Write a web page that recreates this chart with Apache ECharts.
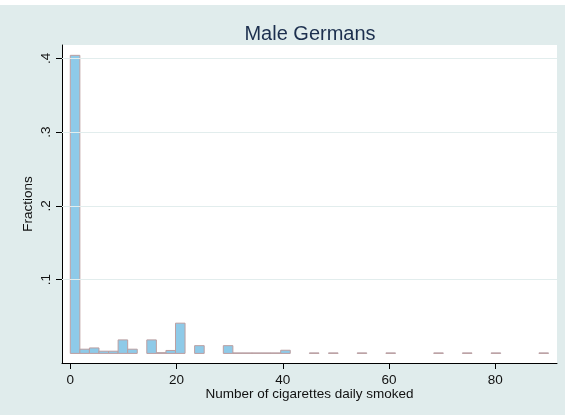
<!DOCTYPE html>
<html><head><meta charset="utf-8">
<script src="https://cdn.jsdelivr.net/npm/echarts@6/dist/echarts.min.js"></script>
<style>html,body{margin:0;padding:0;background:#fff}#c{width:565px;height:415px}</style>
</head><body><div id="c"></div>
<script>
const chartTitle = 'Male Germans';
const xName = 'Number of cigarettes daily smoked';
const yName = 'Fractions';
const binStart = 0;
const binWidth = 1.8;
const fractions = [
  0.404, 0.0057, 0.0074, 0.003, 0.003, 0.0183, 0.0057, 0, 0.0183, 0.001,
  0.004, 0.041, 0, 0.0105, 0, 0, 0.0105, 0.0007, 0.0007, 0.0007,
  0.0007, 0.0007, 0.0043, 0, 0, 0.0007, 0, 0.0007, 0, 0,
  0.0007, 0, 0, 0.0007, 0, 0, 0, 0, 0.0007, 0,
  0, 0.0007, 0, 0, 0.0007, 0, 0, 0, 0, 0.0007
];
const xTicks = [0, 20, 40, 60, 80];
const yTicks = [0.1, 0.2, 0.3, 0.4];
const yTickLabels = ['.1', '.2', '.3', '.4'];

const FONT = '"Liberation Sans", Arial, sans-serif';
const bins = fractions
  .map((v, i) => [binStart + i * binWidth, binStart + (i + 1) * binWidth, v])
  .filter(d => d[2] > 0);

const chart = echarts.init(document.getElementById('c'), null, {renderer: 'canvas'});
chart.setOption({
  backgroundColor: '#e0ecec',
  animation: false,
  graphic: [{type: 'rect', left: 0, top: 0, shape: {width: 565, height: 5}, style: {fill: '#ffffff'}, silent: true}],
  title: {
    text: chartTitle, left: 305, textAlign: 'center', top: 19,
    textStyle: {fontFamily: FONT, fontSize: 20, fontWeight: 'normal', color: '#1c2f4e'}
  },
  grid: {left: 62, right: 8, top: 45, bottom: 52, show: true, backgroundColor: '#ffffff', borderWidth: 0},
  xAxis: {
    type: 'value', min: -1.56, max: 91.6,
    name: xName, nameLocation: 'middle', nameGap: 24, nameMoveOverlap: false,
    nameTextStyle: {fontFamily: FONT, fontSize: 13.5, color: '#111'},
    axisLine: {onZero: false, lineStyle: {color: '#000', width: 1}},
    axisTick: {show: true, length: 6, customValues: xTicks, lineStyle: {color: '#000'}},
    axisLabel: {customValues: xTicks, margin: 10, fontFamily: FONT, fontSize: 13.5, color: '#111'},
    splitLine: {show: false}
  },
  yAxis: {
    type: 'value', min: -0.013, max: 0.418,
    name: yName, nameLocation: 'middle', nameGap: 27, nameMoveOverlap: false,
    nameTextStyle: {fontFamily: FONT, fontSize: 13.5, color: '#111'},
    axisLine: {show: true, onZero: false, lineStyle: {color: '#000', width: 1}},
    axisTick: {show: true, length: 6, customValues: yTicks, lineStyle: {color: '#000'}},
    axisLabel: {
      customValues: yTicks, rotate: 90, margin: 9, fontFamily: FONT, fontSize: 13.5, color: '#111',
      formatter: v => { const i = yTicks.findIndex(t => Math.abs(t - v) < 1e-9); return i >= 0 ? yTickLabels[i] : ''; }
    },
    splitLine: {show: false}
  },
  series: [
    {
      type: 'line', data: [], z: 1, silent: true,
      markLine: {
        silent: true, symbol: ['none', 'none'], label: {show: false},
        lineStyle: {color: '#e2eded', width: 1, type: 'solid'},
        data: yTicks.map(t => ({yAxis: t}))
      }
    },
    {
      type: 'custom', z: 3, data: bins,
      encode: {x: [0, 1], y: 2},
      renderItem: (params, api) => {
        const p0 = api.coord([api.value(0), 0]);
        const p1 = api.coord([api.value(1), api.value(2)]);
        return {
          type: 'rect',
          shape: {x: p0[0], y: p1[1], width: p1[0] - p0[0], height: p0[1] - p1[1]},
          style: {fill: '#8ecae8', stroke: '#bc9fa1', lineWidth: 1}
        };
      }
    }
  ]
});
</script></body></html>
